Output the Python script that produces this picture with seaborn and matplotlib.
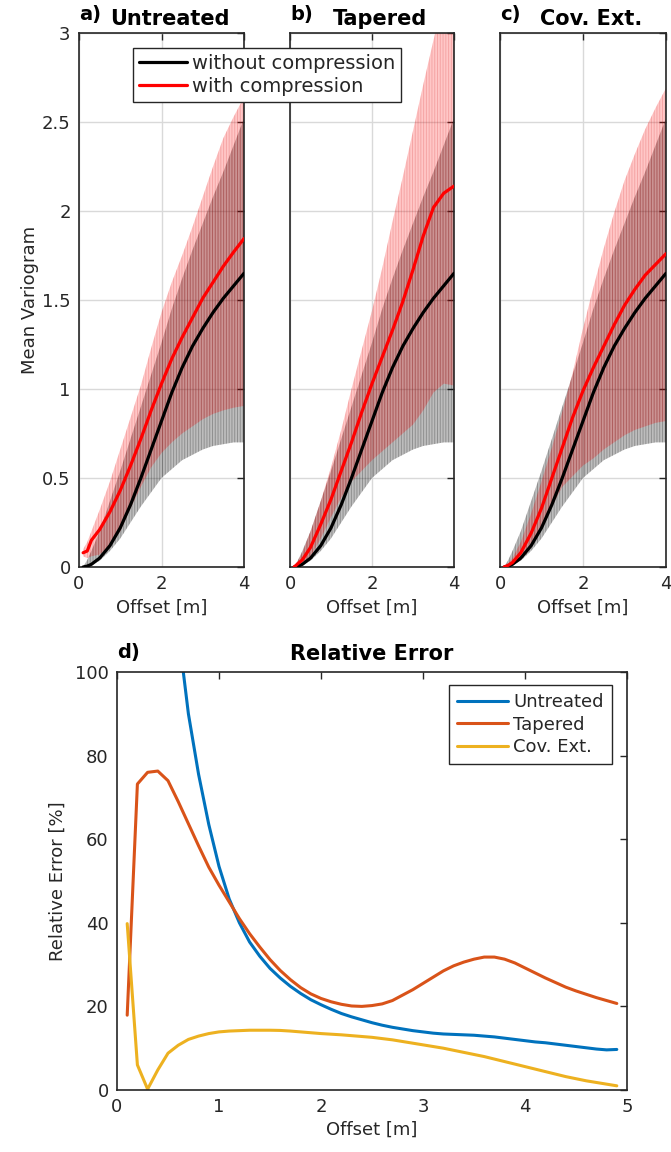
import numpy as np
import pandas as pd
import matplotlib
matplotlib.use("Agg")
import matplotlib.pyplot as plt
import seaborn as sns
from matplotlib.lines import Line2D

# ---------------- data: mean variograms (top panels) ----------------
offset_top = [0.1, 0.2, 0.3, 0.5, 0.75, 1.0, 1.25, 1.5, 1.75, 2.0, 2.25, 2.5,
              2.75, 3.0, 3.25, 3.5, 3.75, 4.0]

# without compression (same in all panels)
black_mean = [0.0, 0.005, 0.015, 0.05, 0.12, 0.22, 0.35, 0.5, 0.66, 0.82, 0.98,
              1.12, 1.24, 1.34, 1.43, 1.51, 1.58, 1.65]
black_lo = [0.0, 0.005, 0.01, 0.035, 0.09, 0.16, 0.25, 0.34, 0.42, 0.5, 0.55,
            0.6, 0.63, 0.66, 0.68, 0.69, 0.7, 0.7]
black_hi = [0.0, 0.04, 0.09, 0.2, 0.37, 0.54, 0.72, 0.9, 1.08, 1.26, 1.45,
            1.62, 1.78, 1.93, 2.08, 2.22, 2.37, 2.52]

# with compression - Untreated
red_mean_a = [0.08, 0.09, 0.15, 0.21, 0.31, 0.43, 0.57, 0.72, 0.88, 1.03, 1.17,
              1.29, 1.4, 1.51, 1.6, 1.69, 1.77, 1.845]
red_lo_a = [0.06, 0.05, 0.06, 0.07, 0.12, 0.2, 0.33, 0.45, 0.56, 0.64, 0.7,
            0.75, 0.79, 0.83, 0.86, 0.88, 0.895, 0.905]
red_hi_a = [0.1, 0.14, 0.2, 0.32, 0.48, 0.66, 0.84, 1.02, 1.23, 1.43, 1.6,
            1.75, 1.91, 2.08, 2.25, 2.41, 2.53, 2.64]

# with compression - Tapered
red_mean_b = [0.0, 0.02, 0.04, 0.11, 0.24, 0.38, 0.54, 0.7, 0.87, 1.03, 1.18,
              1.33, 1.49, 1.67, 1.86, 2.02, 2.1, 2.14]
red_lo_b = [0.0, 0.01, 0.02, 0.06, 0.16, 0.28, 0.39, 0.48, 0.54, 0.6, 0.65,
            0.7, 0.75, 0.8, 0.88, 0.98, 1.03, 1.02]
red_hi_b = [0.0, 0.04, 0.08, 0.2, 0.37, 0.56, 0.77, 1.0, 1.22, 1.44, 1.68,
            1.94, 2.19, 2.45, 2.71, 2.96, 3.2, 3.42]

# with compression - Cov. Ext.
red_mean_c = [0.0, 0.01, 0.025, 0.08, 0.19, 0.33, 0.5, 0.67, 0.84, 0.99, 1.12,
              1.24, 1.36, 1.47, 1.56, 1.64, 1.7, 1.76]
red_lo_c = [0.0, 0.005, 0.01, 0.04, 0.11, 0.22, 0.34, 0.45, 0.51, 0.57, 0.61,
            0.66, 0.7, 0.74, 0.77, 0.79, 0.81, 0.82]
red_hi_c = [0.0, 0.02, 0.05, 0.14, 0.3, 0.48, 0.67, 0.87, 1.09, 1.34, 1.57,
            1.79, 1.99, 2.17, 2.32, 2.46, 2.58, 2.69]

panel_letters = ["a)", "b)", "c)"]
panel_titles = ["Untreated", "Tapered", "Cov. Ext."]

# ---------------- data: relative error (bottom panel) ----------------
offset_err = [0.1, 0.2, 0.3, 0.4, 0.5, 0.6, 0.7, 0.8, 0.9, 1.0, 1.1, 1.2, 1.3,
              1.4, 1.5, 1.6, 1.7, 1.8, 1.9, 2.0, 2.1, 2.2, 2.3, 2.4, 2.5, 2.6,
              2.7, 2.8, 2.9, 3.0, 3.1, 3.2, 3.3, 3.4, 3.5, 3.6, 3.7, 3.8, 3.9,
              4.0, 4.1, 4.2, 4.3, 4.4, 4.5, 4.6, 4.7, 4.8, 4.9]
offset_err_untreated = offset_err[5:]
err_untreated = [110, 90, 75.5, 63.5, 53.5, 45.7, 40.0, 35.4, 32.0, 29.1, 26.8,
                 24.8, 23.1, 21.6, 20.4, 19.3, 18.3, 17.5, 16.8, 16.1, 15.5,
                 15.0, 14.6, 14.2, 13.9, 13.6, 13.4, 13.3, 13.2, 13.1, 12.9,
                 12.7, 12.4, 12.1, 11.8, 11.5, 11.3, 11.0, 10.7, 10.4, 10.1,
                 9.8, 9.6, 9.7]
err_tapered = [17.9, 73.2, 76.0, 76.3, 74.0, 69.0, 63.7, 58.4, 53.3, 49.0, 45.0,
               41.0, 37.4, 34.2, 31.2, 28.6, 26.4, 24.5, 23.0, 21.9, 21.1, 20.5,
               20.1, 20.0, 20.2, 20.6, 21.4, 22.7, 24.0, 25.5, 27.0, 28.5, 29.7,
               30.6, 31.3, 31.8, 31.8, 31.3, 30.4, 29.2, 28.0, 26.8, 25.7, 24.6,
               23.7, 22.9, 22.1, 21.4, 20.7]
err_covext = [39.8, 6.0, 0.2, 4.8, 8.8, 10.7, 12.1, 12.9, 13.5, 13.9, 14.1, 14.2,
              14.3, 14.3, 14.3, 14.25, 14.1, 13.9, 13.7, 13.5, 13.35, 13.2, 13.0,
              12.8, 12.6, 12.3, 12.0, 11.6, 11.2, 10.8, 10.4, 10.0, 9.5, 9.0,
              8.5, 8.0, 7.4, 6.8, 6.2, 5.6, 5.0, 4.4, 3.8, 3.2, 2.7, 2.2, 1.8,
              1.4, 1.0]
err_names = ["Untreated", "Tapered", "Cov. Ext."]
err_colors = ["#0072BD", "#D95319", "#EDB120"]

# ---------------- style ----------------
sns.set_style("white")
plt.rcParams["font.family"] = ["DejaVu Sans"]
plt.rcParams["hatch.linewidth"] = 0.7
TXT = "#262626"
FS = 13

fig = plt.figure(figsize=(6.71, 11.52), dpi=100)
W, H = 671.0, 1152.0


def axes_px(l, t, r, b):
    return fig.add_axes([l / W, 1 - b / H, (r - l) / W, (b - t) / H])


def style_axes(ax):
    for s in ax.spines.values():
        s.set_color(TXT)
        s.set_linewidth(1.2)
    ax.tick_params(direction="in", top=True, right=True, length=5, width=1,
                   colors=TXT, labelsize=FS, labelcolor=TXT, pad=6)


top_boxes = [(79, 33, 244, 567), (290, 33, 454, 567), (500, 33, 666, 567)]
reds = [(red_mean_a, red_lo_a, red_hi_a), (red_mean_b, red_lo_b, red_hi_b),
        (red_mean_c, red_lo_c, red_hi_c)]

for i, box in enumerate(top_boxes):
    ax = axes_px(*box)
    rm, rlo, rhi = reds[i]
    ax.fill_between(offset_top, black_lo, black_hi, facecolor=(0, 0, 0, 0.26),
                    edgecolor=(0.1, 0.1, 0.1, 0.28), hatch="||||||", linewidth=0,
                    zorder=1)
    ax.fill_between(offset_top, rlo, rhi, facecolor=(1, 0, 0, 0.22),
                    edgecolor=(0.8, 0.1, 0.1, 0.2), hatch="||||||", linewidth=0,
                    zorder=2)
    sns.lineplot(x=offset_top, y=black_mean, color="black", linewidth=2.3,
                 ax=ax, zorder=3)
    sns.lineplot(x=offset_top, y=rm, color="red", linewidth=2.3, ax=ax, zorder=4)
    ax.set_xlim(0, 4)
    ax.set_ylim(0, 3)
    ax.set_xticks([0, 2, 4])
    ax.set_xticklabels(["0", "2", "4"])
    ax.set_yticks([0, 0.5, 1, 1.5, 2, 2.5, 3])
    if i == 0:
        ax.set_yticklabels(["0", "0.5", "1", "1.5", "2", "2.5", "3"])
        ax.set_ylabel("Mean Variogram", fontsize=FS, color=TXT, labelpad=2)
    else:
        ax.set_yticklabels([])
        ax.set_ylabel("")
    ax.grid(True, color="#d9d9d9", linewidth=1)
    ax.set_axisbelow(True)
    ax.set_xlabel("Offset [m]", fontsize=FS, color=TXT, labelpad=4)
    style_axes(ax)
    ax.set_title(panel_titles[i], fontsize=15, fontweight="bold", color="black",
                 pad=6, x=0.55)
    ax.text(0.0, 1.016, panel_letters[i], transform=ax.transAxes, ha="left",
            va="bottom", fontsize=14, fontweight="bold", color="black")

fig.legend(handles=[Line2D([], [], color="black", lw=2.3),
                    Line2D([], [], color="red", lw=2.3)],
           labels=["without compression", "with compression"],
           loc="upper left", bbox_to_anchor=(133 / W, 1 - 48 / H),
           borderaxespad=0, fontsize=14, frameon=True, fancybox=False,
           edgecolor=TXT, framealpha=1, handlelength=2.5, handletextpad=0.25,
           borderpad=0.3, labelspacing=0.2)

# ---------------- bottom panel ----------------
axd = axes_px(117, 672, 627, 1090)
err_df = pd.concat([
    pd.DataFrame({"Offset": offset_err_untreated, "Error": err_untreated,
                  "Method": err_names[0]}),
    pd.DataFrame({"Offset": offset_err, "Error": err_tapered,
                  "Method": err_names[1]}),
    pd.DataFrame({"Offset": offset_err, "Error": err_covext,
                  "Method": err_names[2]}),
])
sns.lineplot(data=err_df, x="Offset", y="Error", hue="Method",
             hue_order=err_names, palette=err_colors, linewidth=2.2,
             ax=axd, legend=False, sort=True)
axd.set_xlim(0, 5)
axd.set_ylim(0, 100)
axd.set_xticks([0, 1, 2, 3, 4, 5])
axd.set_yticks([0, 20, 40, 60, 80, 100])
axd.set_xlabel("Offset [m]", fontsize=FS, color=TXT, labelpad=3)
axd.set_ylabel("Relative Error [%]", fontsize=FS, color=TXT, labelpad=6)
style_axes(axd)
axd.set_title("Relative Error", fontsize=15, fontweight="bold", color="black",
              pad=9)
axd.text(0.0, 1.025, "d)", transform=axd.transAxes, ha="left", va="bottom",
         fontsize=14, fontweight="bold", color="black")
axd.legend(handles=[Line2D([], [], color=c, lw=2.2) for c in err_colors],
           labels=err_names, loc="upper right",
           bbox_to_anchor=(1 - 15 / 510, 1 - 13 / 418), borderaxespad=0,
           fontsize=FS, frameon=True, fancybox=False, edgecolor=TXT,
           framealpha=1, handlelength=2.8, handletextpad=0.3, borderpad=0.45,
           labelspacing=0.25)

fig.savefig("out.png", dpi=100)
